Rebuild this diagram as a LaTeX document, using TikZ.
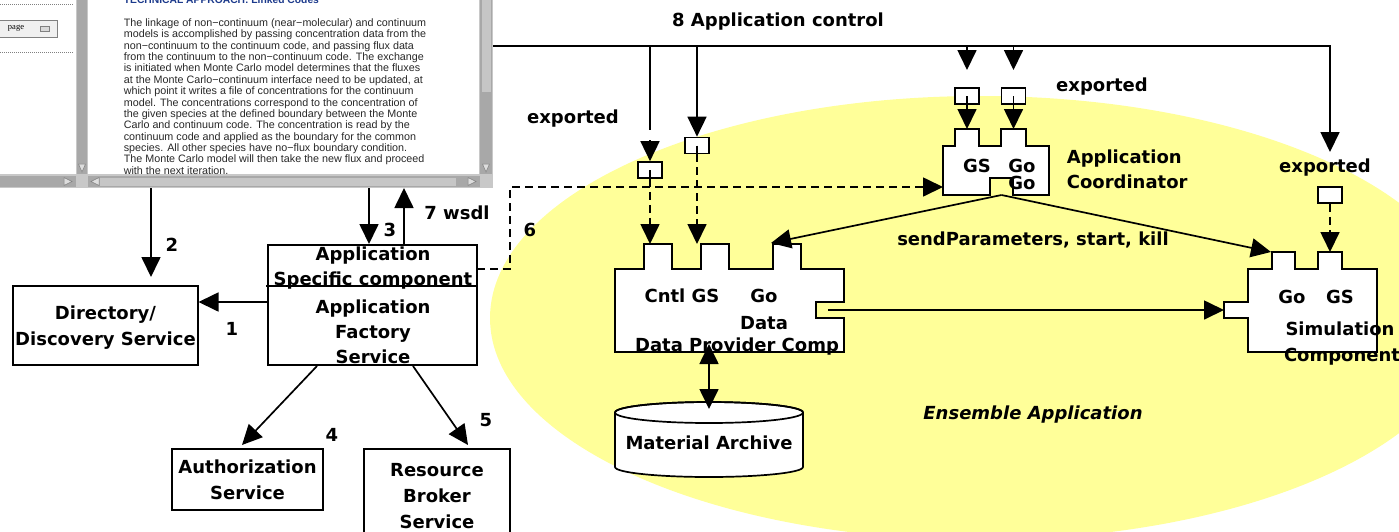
\documentclass[tikz,border=0pt]{standalone}
\usepackage{fontspec}
\setmainfont{DejaVu Sans}
\newfontfamily\shotfont{Liberation Sans}
\newfontfamily\pagefont{Liberation Serif}
\usetikzlibrary{arrows.meta}
\definecolor{ensemble}{RGB}{255,255,153}
\definecolor{winframe}{RGB}{200,200,200}
\definecolor{trough}{RGB}{168,168,168}
\definecolor{thumb}{RGB}{198,198,198}
\definecolor{shottext}{RGB}{40,40,40}
\definecolor{shottitle}{RGB}{28,58,140}
\begin{document}
\begin{tikzpicture}[x=1pt,y=-1pt,line width=1.7pt,
  bigtri/.tip={Triangle[length=20pt,width=19pt]},
  arr/.style={-bigtri},
  dashln/.style={dash pattern=on 8pt off 5pt},
  lbl/.style={inner sep=0pt,font=\fontsize{18}{22}\selectfont\bfseries,text height=13pt,text depth=0pt},
  lblit/.style={lbl,font=\fontsize{18}{22}\selectfont\bfseries\itshape},
  svcbox/.style={draw,fill=white,inner sep=0pt},
  portbox/.style={draw,fill=white,minimum width=24pt,minimum height=16pt,inner sep=0pt},
  comp/.style={draw,fill=white,line join=miter},
  shotline/.style={anchor=base west,inner sep=0pt,text=shottext,font=\shotfont\fontsize{10.75}{11.4}\selectfont},
  scrolltri/.style={fill=thumb!60!white,draw=gray,line width=0.5pt}
]
\useasboundingbox (0,0) rectangle (1399,531);
\clip (0,0) rectangle (1399,531);

% ensemble region
\fill[ensemble] (980,318) ellipse [x radius=490pt,y radius=222pt];

% browser window with the linked-codes page
\begin{scope}
  \clip (0,0) rectangle (493,188);
  \fill[winframe] (0,0) rectangle (493,188);
  \fill[white] (0,0) rectangle (76,174);
  \fill[white] (88,0) rectangle (479,174);
  \draw[gray,line width=0.6pt,dash pattern=on 1pt off 1pt] (0,4) -- (73,4) (0,52) -- (73,52);
  \draw[line width=0.8pt,draw=gray,fill=white!94!black] (-2,20) rectangle (57,37);
  \node[inner sep=0pt,font=\pagefont\fontsize{8.5}{10}\selectfont] (pagebtn) at (16,28.5) {page};
  \draw[line width=0.6pt,draw=gray,fill=white!85!black] (40,26.5) rectangle (49,31);
  \fill[trough] (77,0) rectangle (87,174);
  \fill[trough] (480,0) rectangle (492,174);
  \fill[thumb] (482,0) rectangle (491,92);
  \fill[trough] (0,176) rectangle (76,187);
  \fill[trough] (88,176) rectangle (480,187);
  \fill[thumb] (100,177.5) rectangle (456,185.5);
  \draw[scrolltri] (78.5,164) -- (85.5,164) -- (82,172) -- cycle;
  \draw[scrolltri] (482.5,164) -- (489.5,164) -- (486,172) -- cycle;
  \draw[scrolltri] (64,177.5) -- (64,185.5) -- (72,181.5) -- cycle;
  \draw[scrolltri] (99,177.5) -- (99,185.5) -- (91,181.5) -- cycle;
  \draw[scrolltri] (468,177.5) -- (468,185.5) -- (476,181.5) -- cycle;
  \node[shotline,font=\shotfont\bfseries\fontsize{10.3}{12}\selectfont,text=shottitle] (pagetitle) at (123,3.5) {TECHNICAL APPROACH: Linked Codes};
  \foreach \ln [count=\i] in {
    {The linkage of non−continuum (near−molecular) and continuum},
    {models is accomplished by passing concentration data from the},
    {non−continuum to the continuum code, and passing flux data},
    {from the continuum to the non−continuum code. The exchange},
    {is initiated when Monte Carlo model determines that the fluxes},
    {at the Monte Carlo−continuum interface need to be updated, at},
    {which point it writes a file of concentrations for the continuum},
    {model. The concentrations correspond to the concentration of},
    {the given species at the defined boundary between the Monte},
    {Carlo and continuum code. The concentration is read by the},
    {continuum code and applied as the boundary for the common},
    {species. All other species have no−flux boundary condition.},
    {The Monte Carlo model will then take the new flux and proceed},
    {with the next iteration.}}
    {\node[shotline] (pageline\i) at (123,{26.4+11.38*(\i-1)}) {\ln};}
\end{scope}

% grid services on the left
\node[svcbox,minimum width=185pt,minimum height=79pt] (dir) at (105.5,325.5) {};
\node[svcbox,minimum width=209pt,minimum height=120pt] (afs) at (372.5,305) {};
\node[svcbox,minimum width=151pt,minimum height=61pt] (auth) at (247.5,479.5) {};
\node[svcbox,minimum width=146pt,minimum height=96pt] (rb) at (437,497) {};
\coordinate (divL) at (266,286);
\coordinate (divR) at (477,286);
\draw (divL) -- (divR);

\coordinate (w2) at (151,188);
\coordinate (d2) at (151,277);
\coordinate (w3) at (369,188);
\coordinate (a3) at (369,244);
\coordinate (a7) at (404,245);
\coordinate (w7) at (404,188);
\coordinate (a4) at (317,366);
\coordinate (t4) at (242,445);
\coordinate (a5) at (413,366);
\coordinate (t5) at (468,445);
\coordinate (a1) at (268,302);
\coordinate (t1) at (198.5,302);
\draw[arr] (w2) -- (d2);
\draw[arr] (w3) -- (a3);
\draw[arr] (a7) -- (w7);
\draw[arr] (a1) -- (t1);
\draw[arr] (a4) -- (t4);
\draw[arr] (a5) -- (t5);

\node[lbl] (dirA) at (105.5,313) {Directory/};
\node[lbl] (dirB) at (105.5,339) {Discovery Service};
\node[lbl] (afsA) at (373,254) {Application};
\node[lbl] (afsB) at (373,279) {Specific component};
\node[lbl] (afsC) at (373,307) {Application};
\node[lbl] (afsD) at (373,332) {Factory};
\node[lbl] (afsE) at (373,357) {Service};
\node[lbl] (authA) at (247.5,467) {Authorization};
\node[lbl] (authB) at (247.5,493) {Service};
\node[lbl] (rbA) at (437,470) {Resource};
\node[lbl] (rbB) at (437,496) {Broker};
\node[lbl] (rbC) at (437,522) {Service};

\node[lbl] (n1) at (232,329) {1};
\node[lbl] (n2) at (172,245) {2};
\node[lbl] (n3) at (390,230) {3};
\node[lbl] (n4) at (332,435) {4};
\node[lbl] (n5) at (486,420) {5};
\node[lbl] (n6) at (530,230) {6};
\node[lbl] (n7) at (457,213) {7 wsdl};

% application control bus
\coordinate (busL) at (493,46);
\coordinate (busR) at (1330,46);
\coordinate (simCtl) at (1330,152);
\node[lbl] (ctrl) at (778,20) {8 Application control};
\draw[arr] (busL) -- (busR) -- (simCtl);

% exported ports
\node[portbox] (xDP1) at (650,170) {};
\node[portbox] (xDP2) at (697,145.5) {};
\node[portbox] (xAC1) at (967,96) {};
\node[portbox] (xAC2) at (1013.5,96) {};
\node[portbox] (xSim) at (1330,195) {};
\foreach \p in {xDP1,xDP2,xAC1,xAC2}
  {\draw[line width=1.2pt] (\p.center) -- (\p.south);}
\node[lbl] (expDP) at (573,117) {exported};
\node[lbl] (expAC) at (1102,85) {exported};
\node[lbl] (expSim) at (1325,166) {exported};

\coordinate (gapTop) at (650,130);
\coordinate (gapBot) at (650,140);
\coordinate (acTip1) at (967,70);
\coordinate (acTip2) at (1013.5,70);
\draw (xDP1 |- busL) -- (gapTop);
\draw[arr] (gapBot) -- (xDP1.north);
\draw[arr] (xDP2 |- busL) -- (xDP2.north);
\draw[arr] (xAC1 |- busL) -- (acTip1);
\draw[arr] (xAC2 |- busL) -- (acTip2);

% application coordinator
\draw[comp] (943,146) -- (955,146) -- (955,129) -- (979,129) -- (979,146) -- (1001,146) -- (1001,129) -- (1026,129) -- (1026,146) -- (1049,146) -- (1049,195) -- (1013,195) -- (1013,178) -- (990,178) -- (990,195) -- (943,195) -- cycle;
\coordinate (acGS) at (967,129);
\coordinate (acGo) at (1013.5,129);
\coordinate (acIn) at (943,187);
\coordinate (acOut) at (1001.5,195);

% data provider component
\draw[comp] (615,269) -- (644,269) -- (644,244) -- (672,244) -- (672,269) -- (701,269) -- (701,244) -- (729,244) -- (729,269) -- (773,269) -- (773,244) -- (801,244) -- (801,269) -- (844,269) -- (844,302) -- (816,302) -- (816,318) -- (844,318) -- (844,352) -- (615,352) -- cycle;
\coordinate (dpCntl) at (650,244);
\coordinate (dpGS) at (697,244);
\coordinate (dpGo) at (771,243);
\coordinate (dpOut) at (828,310);
\coordinate (dpBot) at (709,344);

% simulation component
\draw[comp] (1248,269) -- (1272,269) -- (1272,252) -- (1295,252) -- (1295,269) -- (1318,269) -- (1318,252) -- (1342,252) -- (1342,269) -- (1377,269) -- (1377,352) -- (1248,352) -- (1248,318) -- (1224,318) -- (1224,302) -- (1248,302) -- cycle;
\coordinate (simGo) at (1271,252);
\coordinate (simGS) at (1330,252);
\coordinate (simIn) at (1224,310);

% material archive
\draw[comp] (615,412.5) -- (615,467) arc[start angle=180,end angle=360,x radius=94pt,y radius=10pt] -- (803,412.5) arc[start angle=0,end angle=180,x radius=94pt,y radius=10.5pt] -- cycle;
\draw (709,412.5) ellipse [x radius=94pt,y radius=10.5pt];
\coordinate (arcTop) at (709,409);

% connections inside the ensemble
\coordinate (afsR) at (477,269);
\coordinate (bend6a) at (510,269);
\coordinate (bend6b) at (510,187);
\draw[arr,dashln] (afsR) -- (bend6a) -- (bend6b) -- (acIn);
\draw[arr] (xAC1.south) -- (acGS);
\draw[arr] (xAC2.south) -- (acGo);
\draw[arr,dashln] (xDP1.south) -- (dpCntl);
\draw[arr,dashln] (xDP2.south) -- (dpGS);
\draw[arr,dashln] (xSim.south) -- (simGS);
\draw[arr] (acOut) -- (dpGo);
\draw[arr] (acOut) -- (simGo);
\draw[arr] (dpOut) -- (simIn);
\draw[bigtri-bigtri] (arcTop) -- (dpBot);

% component texts
\node[lbl] (acT1) at (977,166) {GS};
\node[lbl] (acT2) at (1022,166) {Go};
\node[lbl] (acT3) at (1022,183) {Go};
\node[lbl,anchor=west] (acName1) at (1066,157) {Application};
\node[lbl,anchor=west] (acName2) at (1066,182) {Coordinator};
\node[lbl] (dpT1) at (682,296) {Cntl GS};
\node[lbl] (dpT2) at (764,296) {Go};
\node[lbl] (dpT3) at (764,323) {Data};
\node[lbl] (dpName) at (737,345) {Data Provider Comp};
\node[lbl] (simT1) at (1292,297) {Go};
\node[lbl] (simT2) at (1340,297) {GS};
\node[lbl] (simName1) at (1340,329) {Simulation};
\node[lbl] (simName2) at (1342,355) {Component};
\node[lbl] (send) at (1033,239) {sendParameters, start, kill};
\node[lbl] (archive) at (709,443) {Material Archive};
\node[lblit] (ensname) at (1033,413) {Ensemble Application};
\end{tikzpicture}
\end{document}
